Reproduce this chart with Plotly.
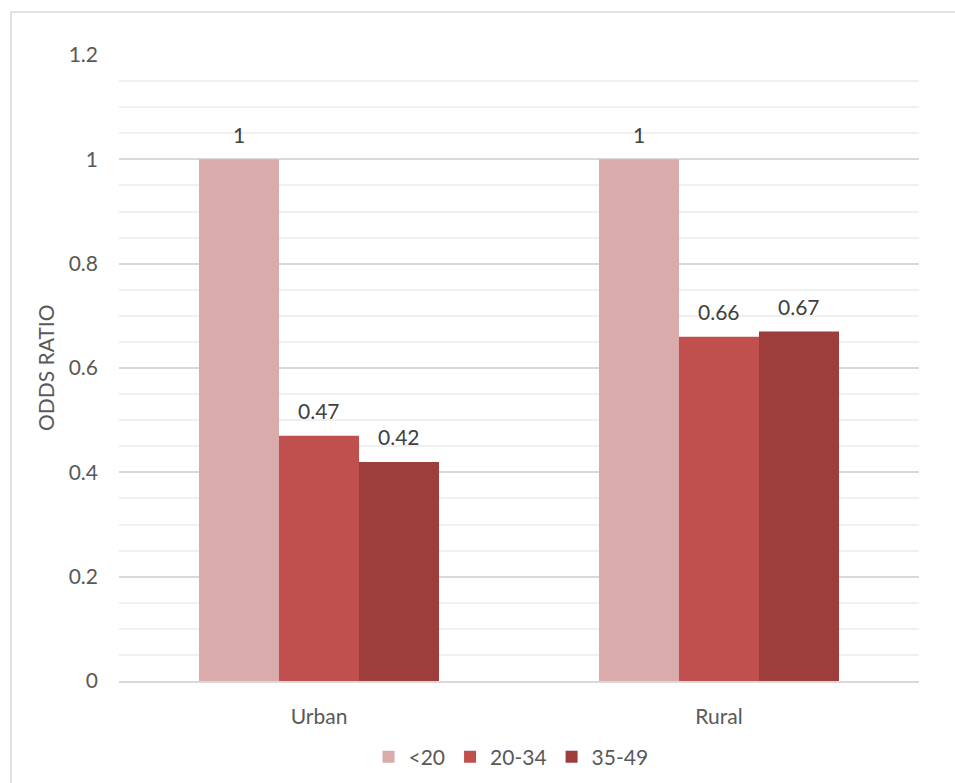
import plotly.graph_objects as go

categories = ["Urban", "Rural"]
series_names = ["<20", "20-34", "35-49"]
values_lt20 = [1, 1]
values_20_34 = [0.47, 0.66]
values_35_49 = [0.42, 0.67]
colors = ["#DAABAB", "#C0504D", "#9E3E3C"]
y_ticks = [0, 0.2, 0.4, 0.6, 0.8, 1, 1.2]
y_tick_labels = ["0", "0.2", "0.4", "0.6", "0.8", "1", "1.2"]

all_values = [values_lt20, values_20_34, values_35_49]
FONT = "Lato, Open Sans, sans-serif"
FS = 21

fig = go.Figure()
for name, vals, col in zip(series_names, all_values, colors):
    fig.add_trace(go.Bar(x=categories, y=vals, name=name, marker=dict(color=col, line=dict(width=0))))

annotations = []
n = len(series_names)
group_width = 0.6
bar_w = group_width / n
for si, vals in enumerate(all_values):
    for ci, v in enumerate(vals):
        xpos = ci - group_width / 2 + bar_w * (si + 0.5)
        annotations.append(dict(x=xpos, y=v, xref="x", yref="y", text=f"{v:g}", showarrow=False,
                                yanchor="middle", yshift=25,
                                font=dict(family=FONT, size=FS, color="#404040")))

annotations.append(dict(x=-0.0925, y=0.5, xref="paper", yref="paper", text="ODDS RATIO",
                        textangle=-90, showarrow=False, xanchor="center", yanchor="middle",
                        font=dict(family=FONT, size=FS, color="#595959")))

fig.update_layout(
    width=955, height=783,
    margin=dict(l=119, r=36, t=55, b=102, autoexpand=False),
    paper_bgcolor="white", plot_bgcolor="white",
    barmode="group", bargap=0.4, bargroupgap=0,
    font=dict(family=FONT, size=FS, color="#595959"),
    showlegend=True,
    legend=dict(orientation="h", x=0.49, xanchor="center",
                yref="container", y=1 - 757 / 783, yanchor="middle",
                font=dict(family=FONT, size=FS, color="#595959"), itemwidth=30,
                tracegroupgap=0),
    annotations=annotations,
    shapes=[dict(type="rect", xref="paper", yref="paper", x0=-0.135, x1=1.5, y0=-0.5, y1=1.0687,
                 line=dict(color="#D9D9D9", width=1.5), fillcolor="rgba(0,0,0,0)", layer="below")],
)

fig.update_yaxes(range=[0, 1.2], tickvals=y_ticks, ticktext=y_tick_labels,
                 showgrid=True, gridcolor="#D9D9D9", gridwidth=2,
                 minor=dict(dtick=0.05, showgrid=True, gridcolor="#F0F0F0", gridwidth=2),
                 zeroline=False, showline=False, ticks="", ticklabelstandoff=20,
                 automargin=False,
                 tickfont=dict(family=FONT, size=FS, color="#595959"))
fig.update_xaxes(showgrid=False, showline=True, linecolor="#D9D9D9", linewidth=2,
                 ticks="", ticklabelstandoff=16, automargin=False,
                 tickfont=dict(family=FONT, size=FS, color="#595959"))

fig.write_html("out.html")
